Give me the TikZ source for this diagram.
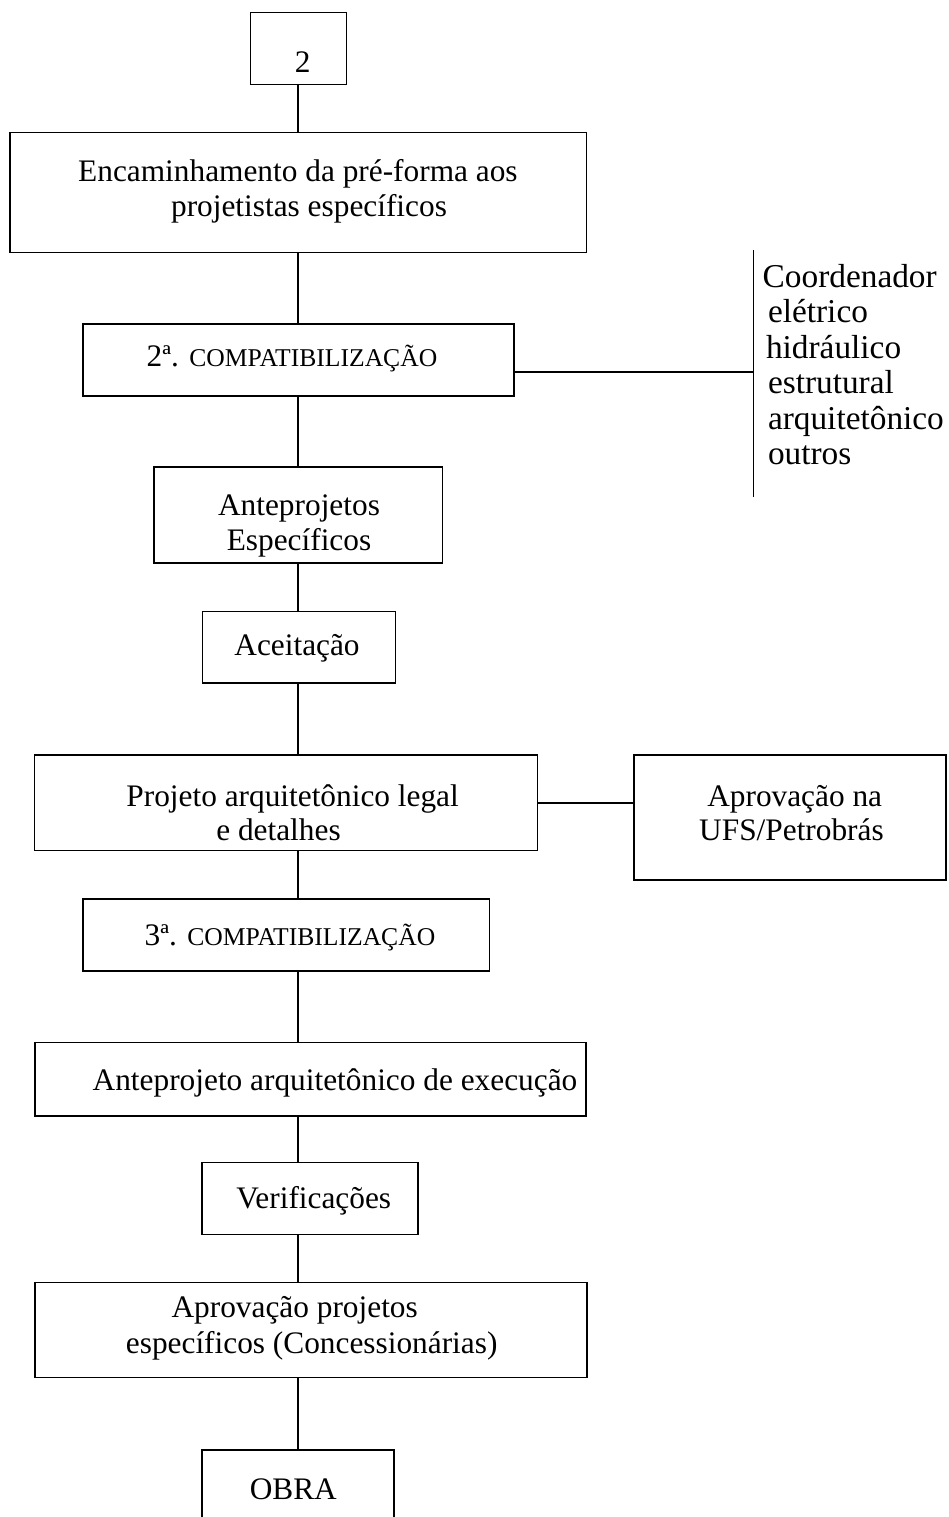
\documentclass[tikz,border=0pt]{standalone}
\usepackage{fontspec}
\setmainfont{Liberation Serif}
\tikzset{
  boxst/.style={draw, line width=0.9pt, inner sep=0pt, outer sep=0pt, rectangle},
  txt/.style={inner sep=0pt, outer sep=0pt, anchor=base, font=\fontsize{23.5pt}{28pt}\selectfont},
  txtl/.style={inner sep=0pt, outer sep=0pt, anchor=base west, font=\fontsize{25pt}{30pt}\selectfont},
  conn/.style={line width=0.9pt},
}
\newcommand\bx[5]{\node[boxst, minimum width={(#4-#2)*0.75pt}, minimum height={(#5-#3)*0.75pt}] (#1) at ({(#2+#4)/2},{(#3+#5)/2}) {};}
\newcommand\smc[1]{{\fontsize{19.2pt}{23pt}\selectfont #1}}
\begin{document}
\begin{tikzpicture}[x=0.75pt, y=-0.75pt]
\useasboundingbox (0,0) rectangle (949,1517);
\clip (0,0) rectangle (949,1517);
% boxes
\bx{b2}{250.7}{12.7}{346.7}{84.3}
\bx{enc}{10}{132.7}{586.3}{252.7}
\bx{c2}{83}{324}{514}{396}
\bx{ante}{154}{467}{442.7}{563}
\bx{acei}{202.7}{611.7}{395.7}{683}
\bx{proj}{34.5}{755}{537.5}{850.7}
\bx{ufs}{634}{755}{946}{880}
\bx{c3}{83}{899}{489.7}{971}
\bx{exec}{35}{1042.7}{586}{1116}
\bx{verif}{202}{1162.7}{418}{1234.3}
\bx{aprov}{35}{1282.7}{587}{1377.7}
\bx{obra}{202}{1450}{394}{1545}
% texts
\node[txt] (t2) at (302.7,72) {2};
\node[txt] (tenc1) at (297.9,181.7) {Encaminhamento da pré-forma aos};
\node[txt] (tenc2) at (309,216.5) {projetistas específicos};
\node[txt] (tc2) at (292,366.7) {2ª. \smc{COMPATIBILIZAÇÃO}};
\node[txtl] (co1) at (762.7,287) {Coordenador};
\node[txtl] (co2) at (768,322.5) {elétrico};
\node[txtl] (co3) at (766,358) {hidráulico};
\node[txtl] (co4) at (768,393.5) {estrutural};
\node[txtl] (co5) at (768,429) {arquitetônico};
\node[txtl] (co6) at (768,464.5) {outros};
\node[txt] (tan1) at (299,515) {Anteprojetos};
\node[txt] (tan2) at (299,550) {Específicos};
\node[txt] (tac) at (297,655.7) {Aceitação};
\node[txt] (tpr1) at (292.6,806) {Projeto arquitetônico legal};
\node[txt] (tpr2) at (278.5,840) {e detalhes};
\node[txt] (tuf1) at (794.7,806) {Aprovação na};
\node[txt] (tuf2) at (791.5,840) {UFS/Petrobrás};
\node[txt] (tc3) at (290,945) {3ª. \smc{COMPATIBILIZAÇÃO}};
\node[txt] (tex) at (335,1090) {Anteprojeto arquitetônico de execução};
\node[txt] (tve) at (313.7,1208.3) {Verificações};
\node[txt] (tap1) at (294.7,1317) {Aprovação projetos};
\node[txt] (tap2) at (311.7,1353) {específicos (Concessionárias)};
\node[txt] (tob) at (293.3,1499) {OBRA};
% connectors
\coordinate (vx) at (298,0);
\draw[conn] (b2.south -| vx) -- (enc.north -| vx);
\draw[conn] (enc.south -| vx) -- (c2.north -| vx);
\draw[conn] (c2.south -| vx) -- (ante.north -| vx);
\draw[conn] (ante.south -| vx) -- (acei.north -| vx);
\draw[conn] (acei.south -| vx) -- (proj.north -| vx);
\draw[conn] (proj.south -| vx) -- (c3.north -| vx);
\draw[conn] (c3.south -| vx) -- (exec.north -| vx);
\draw[conn] (exec.south -| vx) -- (verif.north -| vx);
\draw[conn] (verif.south -| vx) -- (aprov.north -| vx);
\draw[conn] (aprov.south -| vx) -- (obra.north -| vx);
\coordinate (ctop) at (753.5,250);
\coordinate (cbot) at (753.5,497);
\coordinate (cl) at (0,372);
\coordinate (pl) at (0,803);
\draw[conn] (ctop) -- (cbot);
\draw[conn] (c2.east |- cl) -- (ctop |- cl);
\draw[conn] (proj.east |- pl) -- (ufs.west |- pl);
\end{tikzpicture}
\end{document}
